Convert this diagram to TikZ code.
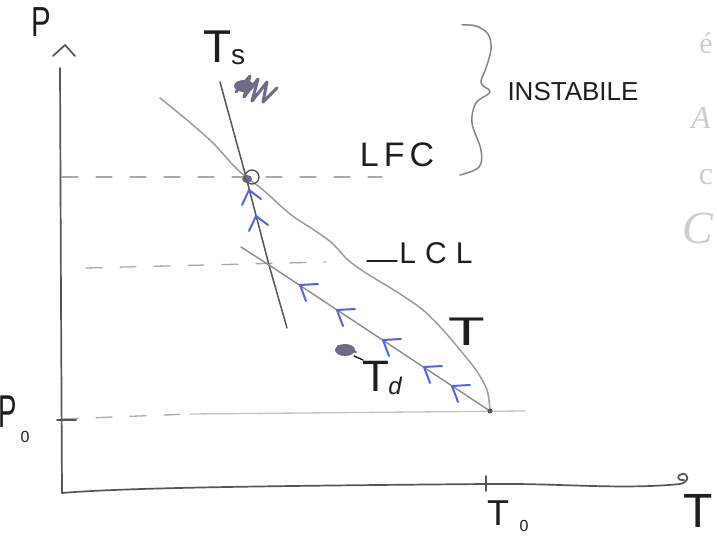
\documentclass[tikz,border=0pt]{standalone}
\usepackage{fontspec}
\usepackage{graphicx}
\setmainfont{Liberation Sans}
\newfontfamily\ghostfont{Liberation Serif}
\definecolor{axisgray}{HTML}{555555}
\definecolor{curvegray}{HTML}{9C9C9C}
\definecolor{dashgray}{HTML}{A9A9A9}
\definecolor{arrowblue}{HTML}{5066E4}
\definecolor{scrib}{HTML}{6C6C88}
\definecolor{ink}{HTML}{1E1E1E}
\definecolor{ghost}{HTML}{CDCDCD}
\begin{document}
\begin{tikzpicture}[x=1pt,y=-1pt,line cap=round,line join=round,
  axis/.style={draw=axisgray,line width=1.7pt},
  tsline/.style={draw=axisgray,line width=1.5pt},
  envcurve/.style={draw=curvegray,line width=1.5pt},
  dryline/.style={draw=curvegray!90!black,line width=1.4pt},
  dashline/.style={draw=dashgray,line width=1.3pt,dash pattern=on 16pt off 18pt},
  faintline/.style={draw=dashgray!70,line width=1.3pt},
  bluearrow/.style={draw=arrowblue,line width=2pt},
  scribble/.style={draw=scrib,line width=3pt},
  bracestyle/.style={draw=curvegray!85!black,line width=1.5pt},
  lab/.style={text=ink,inner sep=0pt,outer sep=0pt},
  ghostlab/.style={text=ghost,inner sep=0pt,font=\ghostfont\itshape}]
\useasboundingbox (0,0) rectangle (717,540);
\fill[white] (0,0) rectangle (717,540);
\clip (0,0) rectangle (717,540);

% key points
\coordinate (O) at (62,493);
\coordinate (Ytop) at (60,68);
\coordinate (TsTop) at (220,82);
\coordinate (TsBot) at (287,328);
\coordinate (LFC) at (246,177);
\coordinate (LCL) at (269,265);
\coordinate (DryStart) at (241,247);
\coordinate (S) at (490,411);
\coordinate (Xend) at (680,484);

% dashed levels
\draw[dashline] (62,177) -- (382,177);
\draw[dashline] (86,268) -- (326,262);
\draw[dashline] (62,419) -- (190,414);
\draw[faintline] (190,414) -- (525,411);

% axes
\draw[axis] (O) -- (61,300) -- (Ytop);
\draw[axis] (53,56) -- (65,45) -- (75,56);
\draw[axis] (O) .. controls (120,488) and (250,486) .. (486,484)
  .. controls (560,483) and (620,490) .. (Xend)
  .. controls (690,482) and (689,473) .. (682,474)
  .. controls (676,475) and (677,481) .. (684,480);
\draw[axis] (486,476) -- (486,491);
\draw[axis] (57,420) -- (76,420);

% environment temperature curve T
\draw[envcurve] plot[smooth,tension=0.55] coordinates {(160,98) (187,120) (213,143) (233,165) (LFC) (262,189) (290,214) (314,230) (332,243) (348,260) (366,273) (397,292) (423,310) (443,330) (460,350) (476,370) (487,390) (S)};

% moist (Ts) line and dry adiabat
\draw[tsline] (TsTop) -- (LFC) -- (LCL) -- (TsBot);
\draw[dryline] (DryStart) -- (LCL) -- (S);

% blue chevrons along the parcel path
\foreach \x/\y in {300/285,337/310,383/340,424/367,452/386}
  \draw[bluearrow] (\x+18,\y-1) -- (\x,\y) -- (\x+6,\y+16);
\foreach \x/\y in {249/190,256/216}
  \draw[bluearrow] (\x-7,\y+15) -- (\x,\y) -- (\x+12,\y+9);

% LFC marker
\fill[scrib] (247,179) ellipse (5 and 4);
\draw[draw=axisgray,line width=1.3pt] (252,177) circle (7);
\fill[axisgray] (S) circle (2.5);

% scribbles
\fill[scrib] (244,86) ellipse (10 and 6);
\draw[scribble] (236,92) -- (250,76) -- (244,97) -- (258,79) -- (252,101) -- (267,82) -- (263,102) -- (277,88);
\fill[scrib] (345,350) ellipse (10 and 6);
\draw[scribble,line width=2pt] (338,346) -- (356,352);
\draw[draw=ink,line width=1.4pt] (354,356) -- (363,360);

% brace
\draw[bracestyle] plot[smooth,tension=0.6] coordinates {(462,25) (476,26) (488,34) (491,49) (486,68) (481,83) (490,92) (476,103) (472,123) (481,150) (479,167) (460,175)};

% LCL leader
\draw[draw=ink,line width=1.3pt] (367,261) -- (397,261);

% labels
\node[lab,font=\fontsize{42}{42}\selectfont] (Plab) at (41,22) {\scalebox{0.7}[1]{P}};
\node[lab,font=\fontsize{46}{46}\selectfont] (TsT) at (218,47) {T};
\node[lab,font=\fontsize{28}{28}\selectfont] (Tss) at (238,57) {s};
\node[lab,font=\fontsize{26}{26}\selectfont] (instab) at (573,92) {INSTABILE};
\node[lab,font=\fontsize{34}{34}\selectfont] (lfclab) at (397,155) {L\hspace{5pt}F\hspace{5pt}C};
\node[lab,font=\fontsize{30}{30}\selectfont] (lcllab) at (436,253) {L\hspace{9pt}C\hspace{9pt}L};
\node[lab,font=\fontsize{40}{40}\selectfont] (Tenv) at (467,332) {\scalebox{1.5}[1]{T}};
\node[lab,font=\fontsize{44}{44}\selectfont] (TdT) at (376,376) {T};
\node[lab,font=\fontsize{24}{24}\selectfont\itshape] (Tdd) at (395,386) {d};
\node[lab,font=\fontsize{46}{46}\selectfont] (P0P) at (8,412) {\scalebox{0.6}[1]{P}};
\node[lab,font=\fontsize{16}{16}\selectfont] (P0s) at (25,437) {0};
\node[lab,font=\fontsize{36}{36}\selectfont] (T0T) at (498,513) {T};
\node[lab,font=\fontsize{16}{16}\selectfont] (T0s) at (524,526) {0};
\node[lab,font=\fontsize{48}{48}\selectfont] (Taxis) at (698,511) {T};

% faint marks from the back of the sheet
\node[ghostlab,font=\ghostfont\fontsize{30}{30}\selectfont] (g1) at (706,43) {é};
\node[ghostlab,font=\ghostfont\itshape\fontsize{32}{32}\selectfont] (g2) at (701,118) {A};
\node[ghostlab,font=\ghostfont\fontsize{32}{32}\selectfont] (g3) at (706,177) {c};
\node[ghostlab,font=\ghostfont\itshape\fontsize{46}{46}\selectfont] (g4) at (698,228) {C};
\end{tikzpicture}
\end{document}
